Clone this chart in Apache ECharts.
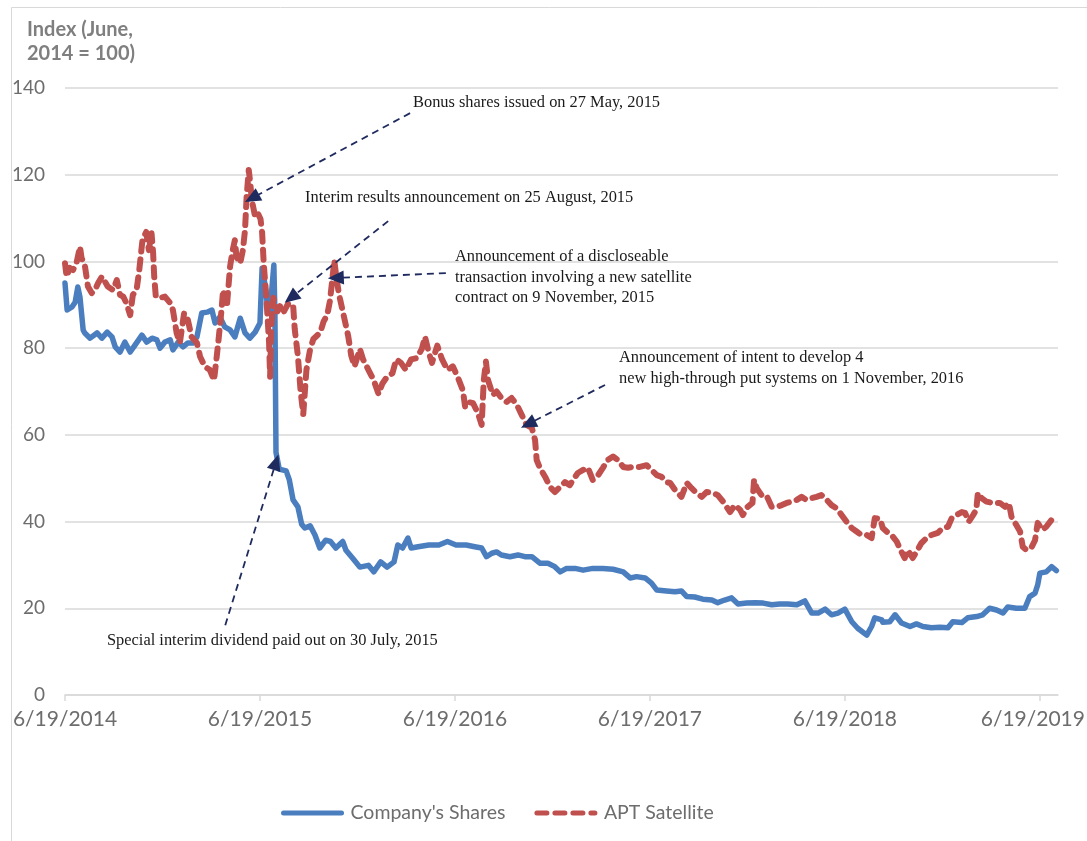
<!DOCTYPE html>
<html>
<head>
<meta charset="utf-8">
<script src="https://cdn.jsdelivr.net/npm/echarts@6/dist/echarts.min.js"></script>
<style>
  html, body { margin: 0; padding: 0; background: #fff; }
  #chart { width: 1087px; height: 841px; }
</style>
</head>
<body>
<div id="chart"></div>
<script>
// x values are days since 6/19/2014
const tickDays = [0, 365, 730, 1095, 1460, 1825];
const tickLabels = ['6/19/2014', '6/19/2015', '6/19/2016', '6/19/2017', '6/19/2018', '6/19/2019'];

const companyShares = [
  [0, 95.0], [4, 88.8], [13, 89.5], [19, 90.6], [24, 94.1], [28, 91.8], [34, 84.2], [37, 83.5],
  [47, 82.3], [60, 83.5], [69, 82.3], [79, 83.7], [88, 82.6], [94, 80.3], [103, 79.1], [112, 81.4],
  [122, 79.1], [131, 80.7], [144, 83.0], [153, 81.4], [163, 82.3], [172, 81.9], [178, 80.0],
  [187, 81.4], [197, 81.9], [202, 79.6], [212, 81.4], [221, 80.3], [230, 81.2], [240, 81.2],
  [247, 82.6], [256, 88.1], [266, 88.3], [275, 88.8], [281, 85.8], [290, 87.2], [299, 84.9],
  [309, 84.2], [318, 82.6], [328, 86.9], [337, 83.5], [346, 82.3], [356, 83.7], [365, 85.8],
  [369, 98.4], [374, 95.0], [378, 90.9], [384, 88.8], [391, 99.2], [393, 88.0], [395, 56.0],
  [401, 52.1], [414, 51.7], [420, 49.6], [427, 45.0], [436, 43.4], [443, 39.4], [449, 38.5],
  [459, 39.0], [468, 36.9], [477, 33.9], [488, 35.7], [497, 35.4], [507, 33.9], [520, 35.4],
  [526, 33.4], [539, 31.5], [552, 29.5], [568, 29.9], [578, 28.4], [591, 30.7], [603, 29.5],
  [616, 30.7], [623, 34.6], [632, 33.9], [642, 36.2], [648, 33.9], [661, 34.2], [681, 34.6],
  [700, 34.6], [716, 35.4], [732, 34.6], [751, 34.6], [767, 34.2], [780, 33.9], [789, 31.9],
  [799, 32.7], [808, 33.0], [817, 32.3], [833, 31.9], [848, 32.3], [861, 31.9], [874, 31.9],
  [889, 30.4], [904, 30.4], [917, 29.6], [927, 28.4], [939, 29.2], [955, 29.2], [970, 28.8],
  [988, 29.2], [1007, 29.2], [1026, 29.0], [1045, 28.4], [1058, 27.0], [1070, 27.3], [1086, 27.0],
  [1098, 25.8], [1108, 24.2], [1126, 24.0], [1142, 23.8], [1154, 24.0], [1164, 22.7], [1179, 22.6],
  [1194, 22.1], [1211, 21.9], [1222, 21.3], [1235, 21.9], [1248, 22.4], [1260, 21.0], [1276, 21.2],
  [1292, 21.3], [1307, 21.2], [1323, 20.8], [1338, 21.0], [1353, 21.0], [1370, 20.8], [1385, 21.7],
  [1398, 18.9], [1410, 18.9], [1423, 19.8], [1435, 18.5], [1447, 18.9], [1460, 19.8], [1473, 16.9],
  [1484, 15.4], [1501, 13.8], [1510, 15.8], [1516, 17.8], [1529, 17.3], [1531, 16.8], [1544, 16.9],
  [1554, 18.5], [1566, 16.6], [1582, 15.8], [1594, 16.4], [1606, 15.8], [1622, 15.5], [1638, 15.6],
  [1653, 15.5], [1662, 16.9], [1679, 16.7], [1690, 17.8], [1707, 18.1], [1718, 18.5], [1731, 20.0],
  [1744, 19.6], [1756, 18.9], [1765, 20.3], [1781, 20.0], [1797, 20.0], [1806, 22.7], [1816, 23.5],
  [1821, 25.4], [1825, 28.1], [1837, 28.4], [1847, 29.6], [1856, 28.7]
];

const aptSatellite = [
  [0, 99.6], [3, 96.5], [9, 98.5], [15, 98.0], [22, 99.9], [28, 103.4], [31, 100.8], [37, 99.2],
  [43, 94.2], [50, 92.7], [56, 93.4], [62, 95.0], [69, 96.5], [75, 95.3], [80, 94.2], [90, 93.4],
  [97, 95.7], [103, 92.3], [109, 91.9], [115, 90.4], [122, 87.6], [127, 92.3], [134, 93.4],
  [139, 98.0], [145, 104.9], [152, 106.8], [157, 102.6], [162, 106.5], [165, 101.9], [167, 96.5],
  [170, 91.9], [178, 91.6], [187, 91.9], [197, 90.4], [202, 88.8], [209, 83.5], [215, 81.2],
  [223, 88.1], [230, 86.5], [237, 82.6], [247, 81.2], [253, 78.0], [262, 75.7], [271, 75.0],
  [279, 72.6], [284, 78.0], [288, 82.6], [293, 88.8], [296, 93.4], [303, 89.5], [309, 98.8],
  [314, 102.6], [318, 104.9], [321, 101.1], [328, 99.6], [333, 102.6], [337, 107.2], [340, 114.9],
  [344, 121.1], [346, 119.0], [350, 114.0], [356, 110.3], [361, 111.1], [366, 109.8], [369, 106.7],
  [372, 99.6], [377, 91.6], [382, 81.4], [384, 73.4], [386, 84.5], [390, 91.6], [398, 88.5],
  [404, 90.1], [410, 88.5], [417, 90.1], [427, 90.1], [430, 84.5], [436, 78.2], [441, 70.2],
  [446, 64.7], [452, 75.0], [459, 79.8], [465, 82.1], [472, 82.9], [478, 83.7], [484, 86.1],
  [491, 87.7], [496, 90.9], [501, 96.4], [504, 100.3], [508, 96.4], [513, 92.4], [520, 88.5],
  [530, 82.9], [536, 78.2], [542, 75.8], [552, 79.8], [558, 77.4], [568, 75.0], [578, 72.6],
  [587, 69.4], [594, 71.8], [603, 73.4], [613, 74.2], [620, 77.4], [629, 76.6], [638, 75.0],
  [648, 77.4], [658, 77.7], [668, 79.8], [674, 82.6], [681, 79.0], [687, 76.6], [697, 80.6],
  [706, 77.4], [716, 75.0], [726, 75.8], [735, 73.4], [745, 70.2], [749, 66.5], [754, 67.6],
  [764, 67.3], [773, 65.0], [780, 62.3], [784, 72.6], [788, 76.9], [792, 72.6], [801, 69.2],
  [808, 70.0], [817, 68.5], [827, 67.6], [836, 68.5], [846, 66.9], [855, 64.6], [864, 62.3],
  [874, 61.6], [880, 58.8], [883, 54.2], [889, 52.4], [899, 50.3], [908, 48.0], [917, 46.8],
  [927, 48.0], [936, 49.1], [945, 48.4], [951, 49.6], [960, 51.2], [970, 51.9], [979, 52.4],
  [988, 49.6], [998, 50.7], [1007, 52.4], [1016, 54.2], [1026, 55.0], [1035, 54.2], [1045, 52.6],
  [1054, 52.4], [1063, 52.6], [1076, 52.6], [1089, 53.0], [1098, 51.9], [1108, 50.7], [1117, 50.3],
  [1126, 49.1], [1133, 48.9], [1142, 47.3], [1154, 45.7], [1164, 48.9], [1173, 47.7], [1182, 46.6],
  [1192, 45.7], [1201, 46.8], [1213, 46.6], [1222, 46.1], [1232, 44.6], [1245, 42.2], [1254, 43.8],
  [1264, 42.7], [1269, 41.5], [1278, 43.4], [1287, 44.3], [1290, 49.6], [1295, 47.7], [1304, 46.1],
  [1313, 46.1], [1323, 43.4], [1332, 43.4], [1342, 43.8], [1351, 44.3], [1360, 44.6], [1370, 45.0],
  [1379, 45.7], [1388, 45.0], [1398, 45.4], [1407, 45.7], [1416, 46.1], [1426, 45.0], [1435, 43.8],
  [1444, 43.1], [1454, 41.5], [1463, 40.0], [1473, 38.5], [1482, 37.7], [1491, 36.9], [1501, 36.9],
  [1510, 36.2], [1516, 40.8], [1526, 40.6], [1531, 38.5], [1541, 37.4], [1550, 36.5], [1557, 35.4],
  [1566, 33.0], [1572, 31.6], [1578, 33.4], [1587, 31.6], [1594, 33.0], [1603, 35.0], [1613, 36.2],
  [1622, 36.9], [1634, 37.4], [1643, 38.5], [1653, 38.8], [1660, 40.8], [1669, 41.5], [1679, 42.2],
  [1685, 42.0], [1692, 40.0], [1700, 41.5], [1706, 42.7], [1709, 46.6], [1716, 45.4], [1725, 44.6],
  [1737, 44.3], [1750, 44.3], [1760, 43.4], [1767, 44.3], [1772, 41.1], [1781, 39.2], [1788, 37.7],
  [1793, 34.2], [1800, 33.4], [1810, 34.2], [1816, 35.7], [1821, 39.7], [1830, 38.1], [1837, 38.8],
  [1847, 40.4], [1853, 39.7]
];

// annotation arrows: [from, to] in [day, index]
const arrows = [
  [[646, 134.2], [350, 114.6]],
  [[605, 109.3], [423, 91.6]],
  [[713, 97.3], [507, 96.2]],
  [[1011, 71.5], [867, 62.5]],
  [[300, 16.1], [395, 53.7]]
];

const notes = [
  { x: 413, y: 103, lines: ['Bonus shares issued on 27 May, 2015'] },
  { x: 305, y: 198, lines: ['Interim results announcement on 25 August, 2015'] },
  { x: 455, y: 257, lines: ['Announcement of a discloseable', 'transaction involving a new satellite', 'contract on 9 November, 2015'] },
  { x: 619, y: 358, lines: ['Announcement of intent to develop 4', 'new high-through put systems on 1 November, 2016'] },
  { x: 107, y: 641, lines: ['Special interim dividend paid out on 30 July, 2015'] }
];

const chart = echarts.init(document.getElementById('chart'));

const graphic = [
  {
    type: 'rect', left: 9, top: 5, silent: true,
    shape: { width: 1100, height: 900 },
    style: { fill: 'none', stroke: '#d9d9d9', lineWidth: 1 }
  }
];
notes.forEach(n => {
  graphic.push({
    type: 'text', left: n.x, top: n.y - 10.5, silent: true,
    style: {
      text: n.lines.join('\n'),
      font: '16.4px "Liberation Serif", serif',
      lineHeight: 20.5,
      fill: '#1a1a1a'
    }
  });
});

chart.setOption({
  animation: false,
  backgroundColor: '#fff',
  title: {
    text: 'Index (June,\n2014 = 100)',
    left: 22, top: 13,
    textStyle: { fontFamily: 'Lato', fontSize: 20, fontWeight: 'bold', color: '#7f7f7f', lineHeight: 24 }
  },
  grid: { left: 65, right: 29, top: 88, bottom: 146, outerBoundsMode: 'none' },
  legend: {
    left: 276, top: 798,
    itemWidth: 58, itemHeight: 14, itemGap: 29,
    itemStyle: { opacity: 0 },
    lineStyle: { width: 5, cap: 'round' },
    textStyle: { fontFamily: 'Lato', fontSize: 19.5, color: '#6d6d6d', padding: [0, 0, 0, 4] },
    data: ["Company's Shares", 'APT Satellite']
  },
  xAxis: {
    type: 'value', min: 0, max: 1859,
    axisLine: { lineStyle: { color: '#d9d9d9', width: 1.5 } },
    axisTick: { show: true, length: 6, customValues: tickDays, lineStyle: { color: '#d9d9d9', width: 1.5 } },
    axisLabel: {
      customValues: tickDays,
      formatter: v => {
        const i = tickDays.indexOf(v);
        if (i < 0) return '';
        return i === tickLabels.length - 1 ? '{last|' + tickLabels[i] + '}' : tickLabels[i];
      },
      rich: { last: { fontFamily: 'Lato', fontSize: 21, color: '#6d6d6d', padding: [0, 14, 0, 0] } },
      fontFamily: 'Lato', fontSize: 21, color: '#6d6d6d', margin: 14
    },
    splitLine: { show: false }
  },
  yAxis: {
    type: 'value', min: 0, max: 140, interval: 20,
    axisLine: { show: false },
    axisTick: { show: false },
    axisLabel: { fontFamily: 'Lato', fontSize: 19, color: '#6d6d6d', margin: 20 },
    splitLine: { lineStyle: { color: '#d9d9d9', width: 1.5 } }
  },
  series: [
    {
      name: "Company's Shares",
      type: 'line',
      data: companyShares,
      symbol: 'none',
      lineStyle: { color: '#4a7ebf', width: 5.5, join: 'round', cap: 'round' },
      itemStyle: { color: '#4a7ebf' }
    },
    {
      name: 'APT Satellite',
      type: 'line',
      data: aptSatellite,
      symbol: 'none',
      lineStyle: { color: '#c0504d', width: 6, type: [10, 8], cap: 'round', join: 'round' },
      itemStyle: { color: '#c0504d' },
      markLine: {
        silent: true,
        symbol: ['none', 'triangle'],
        symbolSize: [14, 16],
        label: { show: false },
        lineStyle: { color: '#1f2b5e', width: 1.8, type: [7, 5] },
        itemStyle: { color: '#1f2b5e' },
        data: arrows.map(a => [{ coord: a[0] }, { coord: a[1] }])
      }
    }
  ],
  graphic: graphic
});
</script>
</body>
</html>
